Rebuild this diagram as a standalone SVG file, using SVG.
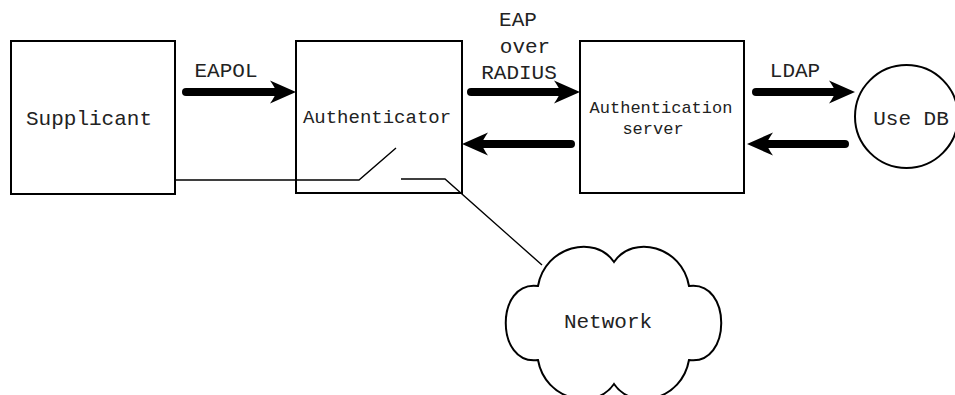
<svg xmlns="http://www.w3.org/2000/svg" width="955" height="395" viewBox="0 0 955 395">
  <style>
    .box { fill: #fff; stroke: #000; stroke-width: 2; }
    .wire { fill: none; stroke: #000; stroke-width: 1.4; }
    .flow { fill: none; stroke: #000; stroke-width: 8; stroke-linecap: round; marker-end: url(#head); }
    .lbl { font-family: "Liberation Mono", "Courier New", monospace; font-size: 21px; fill: #222; text-anchor: middle; }
  </style>
  <defs>
    <marker id="head" markerUnits="userSpaceOnUse" viewBox="-30 -14 32 28" markerWidth="32" markerHeight="28" refX="-18" refY="0" orient="auto">
      <path d="M0,0 L-26,-11.5 Q-20,-3 -20,0 Q-20,3 -26,11.5 Z" fill="#000"/>
    </marker>
  </defs>

  <rect width="955" height="395" fill="#fff"/>

  <!-- port wiring through the authenticator switch -->
  <g id="wiring">
    <polyline class="wire" points="175,180 359,180 396,148"/>
    <polyline class="wire" points="401,179 445,179 542,265"/>
  </g>

  <g id="supplicant">
    <rect class="box" x="11" y="41" width="164" height="153"/>
    <text class="lbl" x="89" y="125">Supplicant</text>
  </g>

  <g id="authenticator">
    <rect class="box" x="296" y="41" width="166" height="152" style="fill:none"/>
    <text class="lbl" x="377" y="123" style="font-size:19px">Authenticator</text>
  </g>

  <g id="auth-server">
    <rect class="box" x="580" y="41" width="164" height="152"/>
    <text class="lbl" x="661" y="113" style="font-size:17px">Authentication</text>
    <text class="lbl" x="653" y="134" style="font-size:17px">server</text>
  </g>

  <g id="user-db">
    <circle class="box" cx="906.5" cy="116.5" r="51.5"/>
    <text class="lbl" x="911" y="125">Use DB</text>
  </g>

  <g id="network">
    <path class="box" d="M538,286 C545,246 595,234 614,262 C633,234 682,246 689,286 C732,280 732,366 689,360 C682,400 633,412 614,384 C595,412 545,400 538,360 C495,366 495,280 538,286 Z"/>
    <text class="lbl" x="608" y="328">Network</text>
  </g>

  <g id="connectors">
    <line class="flow" x1="186" y1="92" x2="278" y2="92"/>
    <line class="flow" x1="471" y1="92" x2="562" y2="92"/>
    <line class="flow" x1="571" y1="144" x2="480" y2="144"/>
    <line class="flow" x1="756" y1="92" x2="837" y2="92"/>
    <line class="flow" x1="845" y1="144" x2="765" y2="144"/>
    <text class="lbl" x="226" y="77">EAPOL</text>
    <text class="lbl" x="518" y="26">EAP</text>
    <text class="lbl" x="525" y="53">over</text>
    <text class="lbl" x="519" y="79">RADIUS</text>
    <text class="lbl" x="795" y="77">LDAP</text>
  </g>
</svg>
